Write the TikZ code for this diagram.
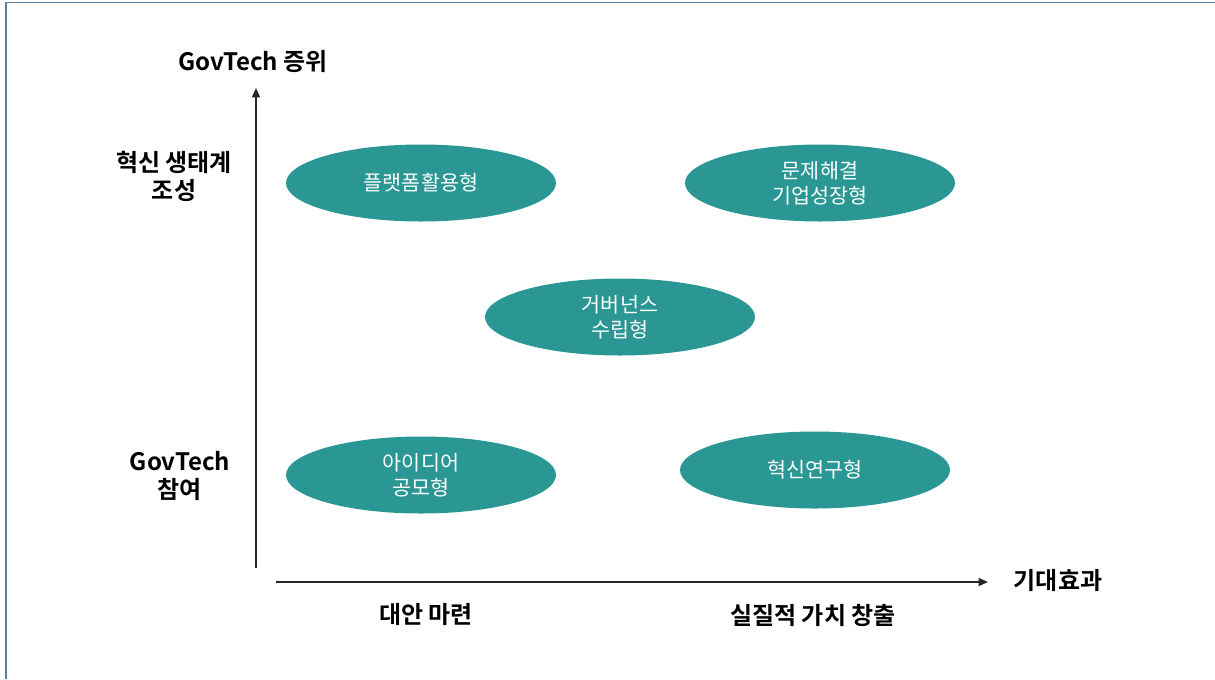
\documentclass[tikz,border=0pt]{standalone}
\usepackage{fontspec}
\setmainfont{Noto Sans CJK KR}
\newfontfamily\krbold{Noto Sans CJK KR Bold}
\usetikzlibrary{arrows.meta,shapes.geometric}
\definecolor{teal1}{HTML}{2A9794}
\definecolor{frameblue}{HTML}{5B80A8}
\tikzset{
  bub/.style={ellipse, fill=teal1, draw=none, minimum width=270*0.75pt, minimum height=77*0.75pt, inner sep=0pt, text=white, align=center, font=\fontsize{15.5pt}{19pt}\selectfont},
  lab/.style={align=center, font=\krbold\fontsize{18pt}{21pt}\selectfont, inner sep=0pt},
  axis/.style={line width=1.1pt, draw=black!85, -{Triangle[length=7pt,width=6pt]}}
}
\begin{document}
\begin{tikzpicture}[x=0.75pt,y=-0.75pt]
\useasboundingbox (0,0) rectangle (1215,679);
\fill[white] (0,0) rectangle (1215,679);
\draw[frameblue, line width=1.3pt] (6,679) -- (6,2.5) -- (1215,2.5);
% axes
\coordinate (yb) at (256,568);
\coordinate (yt) at (256,88);
\coordinate (xl) at (276,582);
\coordinate (xr) at (988,582);
\draw[axis] (yb) -- (yt);
\draw[axis] (xl) -- (xr);
% bubbles
\node[bub] (b1) at (421,183) {플랫폼활용형};
\node[bub] (b2) at (820,183) {문제해결\\기업성장형};
\node[bub] (b3) at (620,317) {거버넌스\\수립형};
\node[bub] (b4) at (421,475) {아이디어\\공모형};
\node[bub] (b5) at (815,470) {혁신연구형};
% labels
\node[lab] (ytitle) at (253,62) {GovTech 증위};
\node[lab] (yhigh) at (174,176) {혁신 생태계\\조성};
\node[lab] (ylow) at (180,476) {GovTech\\참여};
\node[lab] (xtitle) at (1058,580) {기대효과};
\node[lab] (xlow) at (426,615) {대안 마련};
\node[lab] (xhigh) at (813,615) {실질적 가치 창출};
\end{tikzpicture}
\end{document}
